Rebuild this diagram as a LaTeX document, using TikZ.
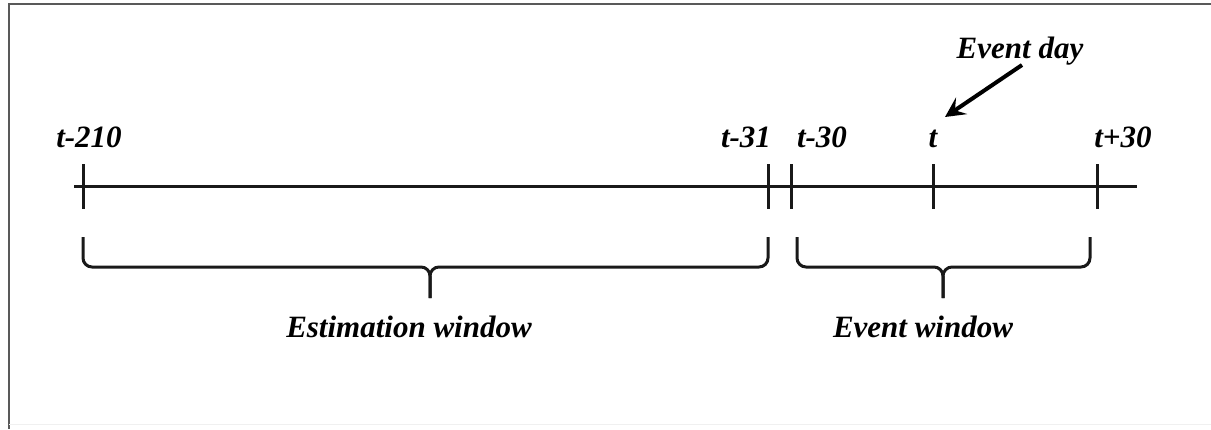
\documentclass[tikz,border=0pt]{standalone}
\usepackage{fontspec}
\setmainfont{Liberation Serif}
\usetikzlibrary{arrows.meta}
\begin{document}
\begin{tikzpicture}[x=1pt,y=-1pt,
  lbl/.style={font=\fontsize{31}{36}\selectfont\bfseries\itshape, inner sep=0pt, anchor=base},
  axisline/.style={line width=3pt, black!90},
  tickmark/.style={line width=3pt, black!90},
  bracepath/.style={line width=3pt, black!90, rounded corners=9pt},
  frameline/.style={line width=2pt, black!65}]
\useasboundingbox (0,0) rectangle (1211,429);
\fill[white] (0,0) rectangle (1211,429);
% frame
\draw[frameline] (1211,4) -- (8.5,4) -- (8.5,429);
\draw[line width=1pt, black!6] (9,424) -- (1211,424);
% axis
\coordinate (axL) at (74,186);
\coordinate (axR) at (1137,186);
\draw[axisline] (axL) -- (axR);
% ticks
\foreach \n/\x in {a/83, b/768, c/791, d/933, e/1097}{
  \coordinate (\n top) at (\x,164);
  \coordinate (\n bot) at (\x,209);
  \draw[tickmark] (\n top) -- (\n bot);
}
% tick labels
\node[lbl] (l210) at (89,147) {t-210};
\node[lbl] (l31) at (746,147) {t-31};
\node[lbl] (l30) at (822,147) {t-30};
\node[lbl] (lt) at (933,147) {t};
\node[lbl] (l30p) at (1123,147) {t+30};
% event day
\node[lbl] (evday) at (1020,58) {Event day};
\coordinate (arrS) at (1022,65);
\coordinate (arrE) at (945,117);
\draw[line width=4pt, -{Stealth[length=20pt,width=20pt,inset=8pt]}] (arrS) -- (arrE);
% estimation brace
\coordinate (eL) at (83,237);
\coordinate (eR) at (768,237);
\coordinate (eM) at (430,267);
\coordinate (eTip) at (430,298);
\draw[bracepath] (eL) -- (83,267) -- (eM) -- (eTip);
\draw[bracepath] (eR) -- (768,267) -- (eM) -- (eTip);
% event brace
\coordinate (vL) at (797,237);
\coordinate (vR) at (1090,237);
\coordinate (vM) at (943,267);
\coordinate (vTip) at (943,298);
\draw[bracepath] (vL) -- (797,267) -- (vM) -- (vTip);
\draw[bracepath] (vR) -- (1090,267) -- (vM) -- (vTip);
% window labels
\node[lbl] (estw) at (409,337) {Estimation window};
\node[lbl] (evw) at (923,337) {Event window};
\end{tikzpicture}
\end{document}
